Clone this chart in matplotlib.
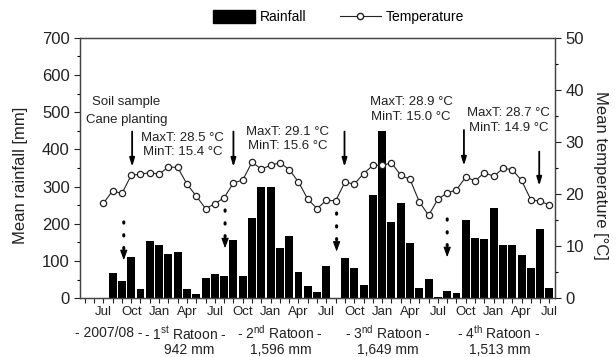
import numpy as np
import matplotlib
matplotlib.use("Agg")
import matplotlib.pyplot as plt
from matplotlib.patches import Patch
from matplotlib.lines import Line2D

plt.rcParams['font.family'] = ['Liberation Sans', 'DejaVu Sans']
plt.rcParams['mathtext.fontset'] = 'custom'
plt.rcParams['mathtext.rm'] = 'Liberation Sans'
plt.rcParams['mathtext.it'] = 'Liberation Sans'

# month index: 0 = Jul 2007 ... 48 = Jul 2011
# monthly rainfall [mm], Aug 2007 - Jul 2011
rain_0708 = [68, 46, 110, 24, 153, 142, 119, 125, 24, 12, 54, 64]
rain_0809 = [60, 156, 60, 216, 298, 298, 135, 167, 70, 32, 16, 86]
rain_0910 = [0, 108, 80, 36, 277, 450, 205, 256, 147, 28, 52, 2]
rain_1011 = [18, 14, 210, 161, 159, 243, 142, 143, 117, 82, 186, 28]
rainfall = rain_0708 + rain_0809 + rain_0910 + rain_1011

# mean monthly temperature [°C], Jul 2007 - Jul 2011
temperature = [18.2, 20.6, 20.1, 23.6, 23.8, 24.1, 23.8, 25.2, 25.1, 21.9, 19.6, 17.2,
               18.1, 19.3, 22.1, 22.7, 26.1, 24.8, 25.5, 26.0, 24.7, 22.3, 19.0, 17.2,
               18.8, 18.7, 22.3, 21.9, 23.9, 25.5, 25.5, 26.0, 23.6, 22.8, 18.5, 15.9,
               19.0, 20.2, 20.8, 23.3, 22.5, 24.1, 23.4, 24.9, 24.7, 22.6, 18.9, 18.6,
               17.9]

month_labels = ['Jul', 'Oct', 'Jan', 'Apr'] * 4 + ['Jul']
season_labels = ['- 2007/08 -', '- 1$^{\\rm st}$ Ratoon -', '- 2$^{\\rm nd}$ Ratoon -',
                 '- 3$^{\\rm nd}$ Ratoon -', '- 4$^{\\rm th}$ Ratoon -']
season_totals = ['942 mm', '1,596 mm', '1,649 mm', '1,513 mm']
temp_notes = ['MaxT: 28.5 °C\nMinT: 15.4 °C', 'MaxT: 29.1 °C\nMinT: 15.6 °C',
              'MaxT: 28.9 °C\nMinT: 15.0 °C', 'MaxT: 28.7 °C\nMinT: 14.9 °C']

rain_x = np.arange(1, len(rainfall) + 1)
temp_x = np.arange(len(temperature))

dark = '#222222'
fig = plt.figure(figsize=(6.16, 3.57), dpi=100)
ax = fig.add_axes([0.13, 0.165, 0.771, 0.729])

ax.bar(rain_x, rainfall, width=0.85, color='black', zorder=2)
ax.set_xlim(-2.5, 48.6)
ax.set_ylim(0, 700)
ax.set_yticks(np.arange(0, 701, 100))
ax.set_yticks(np.arange(50, 700, 100), minor=True)
ax.set_xticks(np.arange(0, 49, 3))
ax.set_xticklabels(month_labels, fontsize=9.5, color=dark)
ax.set_xticks(np.arange(-2, 49, 1), minor=True)
ax.tick_params(axis='y', labelsize=12, colors=dark, length=4, width=0.8)
ax.tick_params(axis='y', which='minor', length=2.5, width=0.8)
ax.tick_params(axis='x', which='both', length=3.5, width=0.8, pad=2, colors=dark)
for s in ax.spines.values():
    s.set_color('#444444')
    s.set_linewidth(0.9)

ax2 = ax.twinx()
ax2.plot(temp_x, temperature, '-o', color=dark, lw=0.8, ms=4.5,
         mfc='white', mec=dark, mew=0.9, zorder=3)
ax2.set_ylim(0, 50)
ax2.set_yticks(np.arange(0, 51, 10))
ax2.set_yticks(np.arange(5, 50, 10), minor=True)
ax2.tick_params(axis='y', labelsize=12, colors=dark, length=4, width=0.8)
ax2.tick_params(axis='y', which='minor', length=2.5, width=0.8)
for s in ax2.spines.values():
    s.set_color('#444444')
    s.set_linewidth(0.9)

fig.text(0.033, 0.51, 'Mean rainfall [mm]', rotation=90, ha='center', va='center',
         fontsize=12, color=dark)
fig.text(0.975, 0.51, 'Mean temperature [°C]', rotation=270, ha='center', va='center',
         fontsize=12, color=dark)

# season labels under the month axis
trans = ax.get_xaxis_transform()
for xm, lab in zip([0.6, 8.85, 19.0, 30.65, 42.55], season_labels):
    ax.text(xm, -0.135, lab, transform=trans, ha='center', va='center',
            fontsize=10, color=dark)
for xm, lab in zip([9.2, 19.1, 30.65, 42.65], season_totals):
    ax.text(xm, -0.2, lab, transform=trans, ha='center', va='center',
            fontsize=10, color=dark)

# annotations
ax.text(-1.2, 528, 'Soil sample', ha='left', va='center', fontsize=9.5, color=dark)
ax.text(-1.9, 479, 'Cane planting', ha='left', va='center', fontsize=9.5, color=dark)
for (xm, ym), note in zip([(8.5, 412), (19.8, 427), (33.1, 507), (43.6, 478)], temp_notes):
    ax.text(xm, ym, note, ha='center', va='center', fontsize=9.5, color=dark,
            linespacing=1.25)

solid = [(3.1, 448, 353), (14.0, 448, 353), (25.95, 448, 353), (38.8, 452, 356),
         (46.9, 394, 302)]
for xm, y0, y1 in solid:
    ax.annotate('', xy=(xm, y1), xytext=(xm, y0),
                arrowprops=dict(arrowstyle='-|>,head_length=0.5,head_width=0.15',
                                color='black', lw=1.3, shrinkA=0, shrinkB=0))

# dotted arrows: dotted shaft + small solid head
dotted = [(2.2, 205, 102), (13.1, 237, 134), (25.1, 229, 125), (37.0, 213, 110)]
for xm, y0, y1 in dotted:
    ax.annotate('', xy=(xm, y1 + 26), xytext=(xm, y0),
                arrowprops=dict(arrowstyle='-', color='black', lw=2.2,
                                linestyle=(0, (0.4, 3.8)), capstyle='round',
                                shrinkA=0, shrinkB=0))
    ax.annotate('', xy=(xm, y1), xytext=(xm, y1 + 22),
                arrowprops=dict(arrowstyle='-|>,head_length=0.6,head_width=0.22',
                                color='black', lw=0.8, shrinkA=0, shrinkB=0))

handles = [Patch(facecolor='black', edgecolor='black'),
           Line2D([], [], color=dark, lw=0.8, marker='o', ms=4.5, mfc='white', mec=dark)]
fig.legend(handles, ['Rainfall', 'Temperature'], loc='center', ncol=2,
           bbox_to_anchor=(0.55, 0.952), frameon=False, fontsize=10,
           handlelength=3.0, handletextpad=0.35, columnspacing=2.4, handleheight=1.0)

fig.savefig('out.png', dpi=100)
